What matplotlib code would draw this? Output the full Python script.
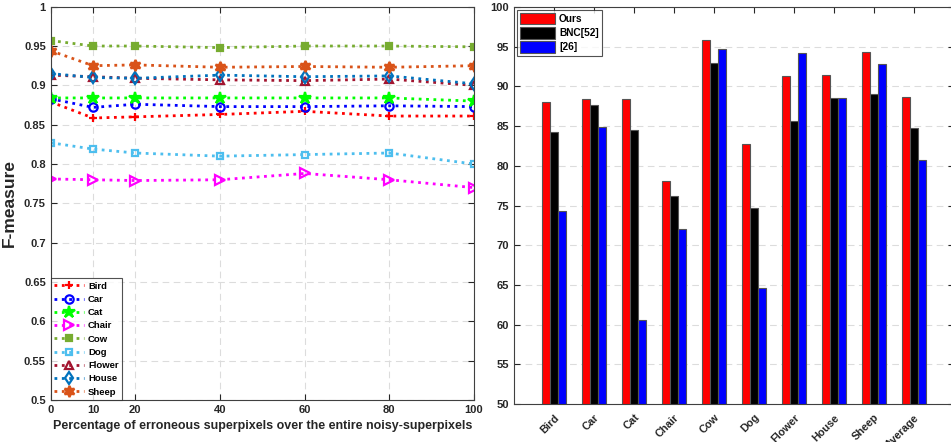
import numpy as np
import matplotlib.pyplot as plt

plt.rcParams['font.family'] = ['Liberation Sans', 'DejaVu Sans']
plt.rcParams['font.weight'] = 'bold'

# ---- left panel data ----
pct = [0, 10, 20, 40, 60, 80, 100]
bird = [0.879, 0.8585, 0.860, 0.863, 0.867, 0.861, 0.861]
car = [0.883, 0.872, 0.876, 0.873, 0.873, 0.874, 0.873]
cat = [0.884, 0.884, 0.884, 0.884, 0.884, 0.884, 0.880]
chair = [0.781, 0.780, 0.779, 0.780, 0.788, 0.780, 0.770]
cow = [0.957, 0.950, 0.950, 0.948, 0.950, 0.950, 0.949]
dog = [0.827, 0.819, 0.814, 0.810, 0.812, 0.814, 0.800]
flower = [0.913, 0.911, 0.909, 0.907, 0.906, 0.908, 0.900]
house = [0.915, 0.910, 0.909, 0.913, 0.911, 0.912, 0.902]
sheep = [0.944, 0.925, 0.926, 0.923, 0.924, 0.923, 0.925]

# ---- right panel data ----
classes = ['Bird', 'Car', 'Cat', 'Chair', 'Cow', 'Dog', 'Flower', 'House',
           'Sheep', 'Average']
ours = [88.0, 88.4, 88.4, 78.1, 95.8, 82.7, 91.3, 91.4, 94.3, 88.7]
bnc = [84.3, 87.7, 84.5, 76.2, 92.9, 74.7, 85.6, 88.5, 89.0, 84.8]
ref26 = [74.3, 84.9, 60.6, 72.1, 94.7, 64.6, 94.2, 88.5, 92.8, 80.7]

fig = plt.figure(figsize=(9.51, 4.42), dpi=100)

# ------------------------- left: line plot -------------------------
ax1 = fig.add_axes([50.7/951, 42/442, 423.3/951, 393.3/442])
series = [
    ('Bird', bird, '#FF0000', '+', 'full', 6),
    ('Car', car, '#0000FF', 'o', 'none', 6),
    ('Cat', cat, '#00FF00', '*', 'full', 9),
    ('Chair', chair, '#FF00FF', '>', 'none', 7),
    ('Cow', cow, '#77AC30', 's', 'full', 4),
    ('Dog', dog, '#4DBEEE', 's', 'none', 4.5),
    ('Flower', flower, '#A2142F', '^', 'none', 6),
    ('House', house, '#0072BD', 'd', 'none', 6),
    ('Sheep', sheep, '#D95319', (6, 1, 0), 'full', 8),
]
for name, vals, col, mk, fill, ms in series:
    ax1.plot(pct, vals, linestyle=':', color=col, linewidth=2, marker=mk,
             markersize=ms, fillstyle=fill, markeredgewidth=1.6, label=name)
ax1.set_xlim(0, 100)
ax1.set_ylim(0.5, 1)
ax1.set_xticks(pct)
ax1.set_yticks(np.arange(0.5, 1.001, 0.05))
ax1.set_yticklabels(['%g' % round(v, 2) for v in np.arange(0.5, 1.001, 0.05)])
ax1.grid(True, linestyle=(0, (6, 4)), color='#DCDCDC', linewidth=0.8)
ax1.tick_params(direction='in', top=True, right=True, labelsize=8,
                colors='#262626', length=4)
for s in ax1.spines.values():
    s.set_color('#404040')
ax1.set_xlabel('Percentage of erroneous superpixels over the entire noisy-superpixels',
               fontsize=9, fontweight='bold', color='#262626', labelpad=4)
ax1.set_ylabel('F-measure', fontsize=12.5, fontweight='bold', color='#262626',
               labelpad=5)
leg1 = ax1.legend(loc='lower left', fontsize=6.8, handlelength=3.2,
                  borderaxespad=0, frameon=True, fancybox=False,
                  labelspacing=0.45, handletextpad=0.4, borderpad=0.35)
leg1.get_frame().set_edgecolor('#262626')
leg1.get_frame().set_linewidth(0.8)

# ------------------------- right: bar plot -------------------------
ax2 = fig.add_axes([514/951, 38/442, 440/951, 397/442])
x = np.arange(1, len(classes) + 1)
w = 0.2
ax2.bar(x - w, ours, w, color='#FF0000', edgecolor='#555555', linewidth=0.8,
        label='Ours')
ax2.bar(x, bnc, w, color='#000000', edgecolor='#555555', linewidth=0.8,
        label='BNC[52]')
ax2.bar(x + w, ref26, w, color='#0000FF', edgecolor='#555555', linewidth=0.8,
        label='[26]')
ax2.set_xlim(0, 11)
ax2.set_ylim(50, 100)
ax2.set_yticks(np.arange(50, 101, 5))
ax2.set_xticks(x)
ax2.set_xticklabels(classes, rotation=45, ha='right', rotation_mode='anchor',
                    fontsize=7.8)
ax2.set_axisbelow(True)
ax2.yaxis.grid(True, linestyle=(0, (6, 4)), color='#DCDCDC', linewidth=0.8)
ax2.tick_params(direction='in', top=True, right=True, labelsize=8,
                colors='#262626', length=4)
ax2.tick_params(axis='x', pad=6, labelsize=7.8)
for s in ax2.spines.values():
    s.set_color('#404040')
leg2 = ax2.legend(loc='upper left', fontsize=7.3, handlelength=3.5,
                  handleheight=1.4, borderaxespad=0.25, frameon=True,
                  fancybox=False, labelspacing=0.25, handletextpad=0.4,
                  borderpad=0.3)
leg2.get_frame().set_edgecolor('#262626')
leg2.get_frame().set_linewidth(0.8)

fig.savefig('out.png', dpi=100)
